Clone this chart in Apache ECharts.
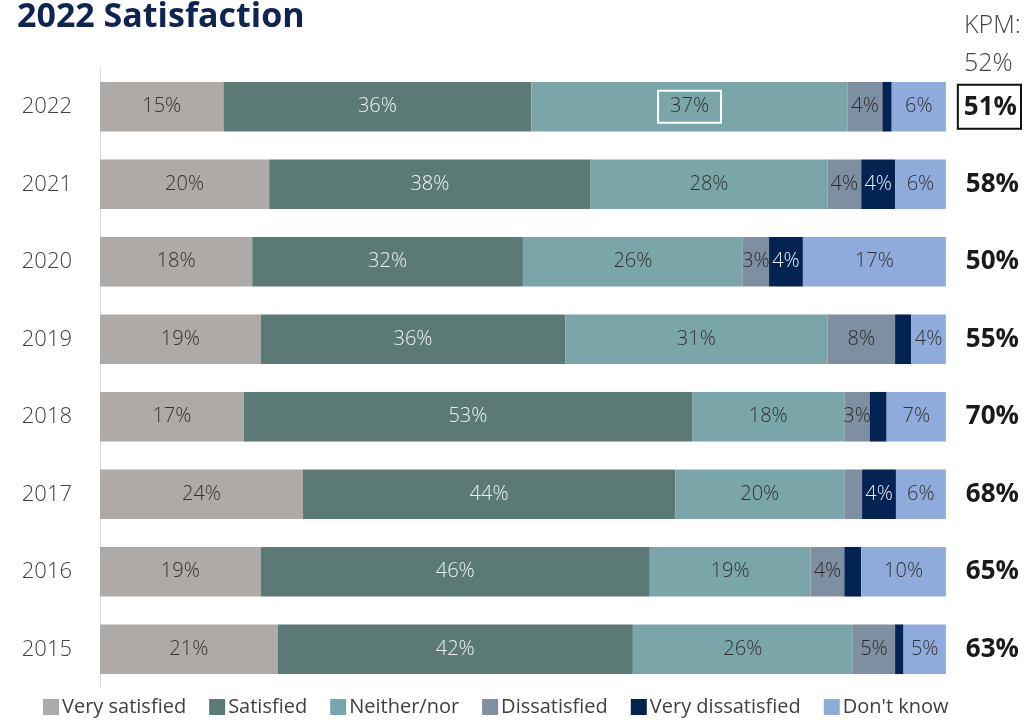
<!DOCTYPE html>
<html>
<head>
<meta charset="utf-8">
<script src="https://cdn.jsdelivr.net/npm/echarts@6/dist/echarts.min.js"></script>
<style>
  html, body { margin: 0; padding: 0; background: #fff; }
  #chart { width: 1025px; height: 720px; }
</style>
</head>
<body>
<div id="chart"></div>
<script>
// years top to bottom
const years = ['2022', '2021', '2020', '2019', '2018', '2017', '2016', '2015']
// satisfied total (very satisfied + satisfied) shown on the right
const totals = ['51%', '58%', '50%', '55%', '70%', '68%', '65%', '63%']

const verySatisfied = [14.6, 20, 18, 19, 17, 24, 19, 21]
const satisfied = [36.4, 38, 32, 36, 53, 44, 46, 42]
const neither = [37.4, 28, 26, 31, 18, 20, 19, 26]
const dissatisfied = [4.1, 4, 3.1, 8, 3, 2.1, 4, 5]
const veryDissatisfied = [1.1, 4, 4, 1.9, 2, 4, 2, 1]
const dontKnow = [6.4, 6, 17, 4.1, 7, 6, 10, 5]

const seriesNames = ['Very satisfied', 'Satisfied', 'Neither/nor', 'Dissatisfied', 'Very dissatisfied', "Don't know"]
const colors = ['#aeaaa8', '#5b7a76', '#7aa6a9', '#7f8fa2', '#032352', '#8eabdc']
const labelColors = ['#333', '#eef2f2', '#333', '#2b2b2b', '#e8ecf4', '#333']

const font = "'Source Sans Pro', 'Open Sans', 'Noto Sans', sans-serif"

const chart = echarts.init(document.getElementById('chart'))

const makeSeries = (name, values, i) => ({
  name: name,
  type: 'bar',
  stack: 'all',
  barCategoryGap: '36%',
  itemStyle: { color: colors[i] },
  label: {
    show: true,
    color: labelColors[i],
    fontSize: 20,
    fontWeight: 300,
    fontFamily: font,
    formatter: p => p.value >= 2.5 ? Math.round(p.value) + '%' : ''
  },
  data: values.map((v, j) => {
    // the 2022 "Neither/nor" value is boxed in the original
    if (i === 2 && j === 0) {
      return {
        value: v,
        label: { borderColor: '#fff', borderWidth: 2, padding: [7, 12, 5, 12] }
      }
    }
    return v
  })
})

chart.setOption({
  animation: false,
  color: colors,
  title: {
    text: '2022 Satisfaction',
    left: 12,
    top: -5,
    textStyle: { color: '#0e2452', fontSize: 34, fontWeight: 'bold', fontFamily: font }
  },
  graphic: [
    {
      type: 'text',
      left: 964,
      top: 7,
      style: { text: 'KPM:\n52%', fontSize: 25, lineHeight: 38, fill: '#444', fontFamily: font, fontWeight: 300 }
    }
  ],
  legend: {
    bottom: -2,
    left: 38,
    itemWidth: 16,
    itemHeight: 16,
    itemGap: 23,
    icon: 'rect',
    textStyle: { fontSize: 20, color: '#404040', fontFamily: "'Liberation Sans Narrow', 'Open Sans', sans-serif", padding: [0, 0, 0, -2] },
    data: seriesNames
  },
  grid: { left: 100, right: 79, top: 68, bottom: 32 },
  xAxis: { type: 'value', min: 0, max: 100, show: false },
  yAxis: [
    {
      type: 'category',
      inverse: true,
      data: years,
      axisLine: { show: true, lineStyle: { color: '#d9d9d9', width: 1 } },
      axisTick: { show: false },
      axisLabel: { fontSize: 22, color: '#404040', margin: 28, fontFamily: font, fontWeight: 300 }
    },
    {
      type: 'category',
      inverse: true,
      position: 'right',
      data: totals,
      axisLine: { show: false },
      axisTick: { show: false },
      axisLabel: {
        margin: 12,
        align: 'left',
        formatter: (v, idx) => idx === 0 ? '{box|' + v + '}' : '{plain|' + v + '}',
        rich: {
          box: { fontSize: 26, fontWeight: 'bold', color: '#1a1a1a', fontFamily: font, borderColor: '#111', borderWidth: 2, padding: [10, 4, 8, 6] },
          plain: { fontSize: 26, fontWeight: 'bold', color: '#1a1a1a', fontFamily: font, padding: [0, 4, 0, 8] }
        }
      }
    }
  ],
  series: [
    makeSeries(seriesNames[0], verySatisfied, 0),
    makeSeries(seriesNames[1], satisfied, 1),
    makeSeries(seriesNames[2], neither, 2),
    makeSeries(seriesNames[3], dissatisfied, 3),
    makeSeries(seriesNames[4], veryDissatisfied, 4),
    makeSeries(seriesNames[5], dontKnow, 5)
  ]
})
</script>
</body>
</html>
